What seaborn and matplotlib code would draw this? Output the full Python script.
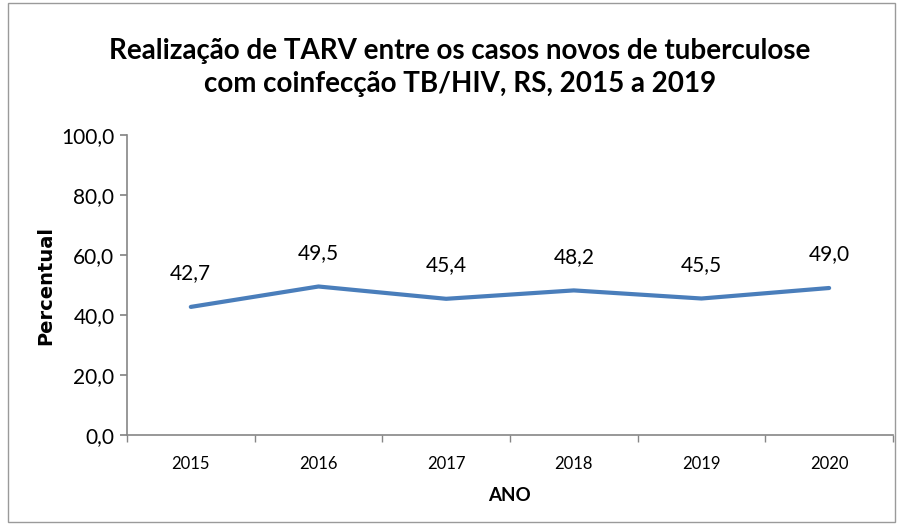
import matplotlib
matplotlib.use("Agg")
import matplotlib.pyplot as plt
import seaborn as sns
import pandas as pd
from matplotlib.patches import Rectangle

anos = ["2015", "2016", "2017", "2018", "2019", "2020"]
percentual = [42.7, 49.5, 45.4, 48.2, 45.5, 49.0]
yticks = [0, 20, 40, 60, 80, 100]

sns.set_theme(style="white")
plt.rcParams['font.family'] = ['Lato', 'DejaVu Sans']
plt.rcParams['text.color'] = 'black'
plt.rcParams['xtick.color'] = 'black'
plt.rcParams['ytick.color'] = 'black'
plt.rcParams['axes.labelcolor'] = 'black'

df = pd.DataFrame({"pos": range(len(anos)), "ano": anos, "val": percentual})

fig = plt.figure(figsize=(8.98, 5.24), dpi=100)
ax = fig.add_axes([0.1414, 0.1698, 0.9944 - 0.1414, 0.7424 - 0.1698])
sns.lineplot(data=df, x="pos", y="val", ax=ax, color="#4a7ebb", linewidth=3)

ax.set_xlim(-0.5, len(anos) - 0.5)
ax.set_ylim(0, 100)
ax.set_yticks(yticks)
ax.set_yticklabels([f"{v:.1f}".replace(".", ",") for v in yticks], fontsize=15)
ax.set_xticks(range(len(anos)))
ax.set_xticklabels(anos, fontsize=12)
ax.tick_params(axis="x", length=0, pad=15)
ax.set_xticks([i - 0.5 for i in range(len(anos) + 1)], minor=True)
ax.tick_params(axis="x", which="minor", length=5, color="#868686", direction="out", bottom=True)
ax.tick_params(axis="y", length=5, color="#868686", direction="out", left=True, pad=4)
for t in ax.get_yticklabels():
    t.set_color("black")

for s in ["top", "right"]:
    ax.spines[s].set_visible(False)
for s in ["left", "bottom"]:
    ax.spines[s].set_color("#868686")
    ax.spines[s].set_linewidth(1.2)

for i, v in enumerate(percentual):
    ax.annotate(f"{v:.1f}".replace(".", ","), (i, v), xytext=(0, 17), textcoords="offset points",
                ha="center", va="bottom", fontsize=15, color="black")

ax.set_xlabel("ANO", fontsize=13.5, fontweight="bold", labelpad=11)
ax.set_ylabel("Percentual", fontsize=14, fontweight="bold", labelpad=4,
              family=['DejaVu Sans'])

fig.text(0.512, 0.871, "Realização de TARV entre os casos novos de tuberculose\ncom coinfecção TB/HIV, RS, 2015 a 2019",
         ha="center", va="center", fontsize=20, fontweight="bold", linespacing=1.35, color="black")

fig.patches.append(Rectangle((0.009, 0.004), 0.988, 0.99, transform=fig.transFigure,
                             fill=False, edgecolor="#9a9a9a", linewidth=1))

fig.savefig("out.png", dpi=100)
